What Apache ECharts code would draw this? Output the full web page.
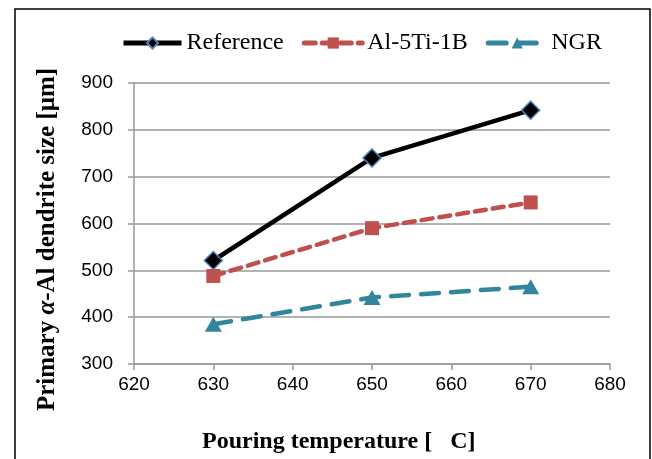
<!DOCTYPE html>
<html>
<head>
<meta charset="utf-8">
<title></title>
<script src="https://cdn.jsdelivr.net/npm/echarts@6/dist/echarts.min.js"></script>
<style>
  html, body { margin: 0; padding: 0; background: #fff; }
  #chart { width: 652px; height: 459px; }
</style>
</head>
<body>
<div id="chart"></div>
<script>
// pouring temperature [C]
var temps = [630, 650, 670];
var refSize = [521, 740, 842];
var tiSize = [488, 590, 645];
var ngrSize = [385, 442, 465];

function pairs(xs, ys) {
	var out = [];
	for (var i = 0; i < xs.length; i++) out.push([xs[i], ys[i]]);
	return out;
}

var serif = '"Liberation Serif", "Times New Roman", serif';
var sans = '"Liberation Sans", Arial, sans-serif';

var myChart = echarts.init(document.getElementById('chart'));
var option = {
	animation: false,
	backgroundColor: '#fff',
	title: {
		text: 'Pouring temperature [   C]',
		left: 197,
		top: 425,
		textStyle: { fontFamily: serif, fontSize: 24, fontWeight: 'bold', color: '#000' }
	},
	graphic: [{
		type: 'rect',
		shape: { x: 15, y: 9, width: 635, height: 470 },
		style: { fill: 'none', stroke: '#000', lineWidth: 1.5 },
		silent: true
	}],
	legend: {
		top: 31,
		left: 121,
		padding: 0,
		itemWidth: 58,
		itemHeight: 14,
		itemGap: 18,
		selectedMode: false,
		lineStyle: { width: 5 },
		textStyle: { fontFamily: serif, fontSize: 24, color: '#000' },
		data: ['Reference', 'Al-5Ti-1B', 'NGR']
	},
	grid: { left: 134, right: 42, top: 83, bottom: 95 },
	xAxis: {
		type: 'value',
		min: 620,
		max: 680,
		interval: 10,
		axisLine: { lineStyle: { color: '#999', width: 1.5 } },
		axisTick: { show: true, length: 6, lineStyle: { color: '#999', width: 1.5 } },
		axisLabel: { fontFamily: sans, fontSize: 19, color: '#000', margin: 11 },
		splitLine: { show: false }
	},
	yAxis: {
		type: 'value',
		min: 300,
		max: 900,
		interval: 100,
		name: 'Primary {i|α}-Al dendrite size [μm]',
		nameLocation: 'middle',
		nameGap: 74,
		nameTextStyle: {
			fontFamily: serif, fontSize: 25, fontWeight: 'bold', color: '#000',
			padding: [0, 32, 0, 0],
			rich: { i: { fontFamily: serif, fontSize: 25, fontWeight: 'bold', fontStyle: 'italic', color: '#000' } }
		},
		axisLine: { show: true, lineStyle: { color: '#999', width: 1.5 } },
		axisTick: { show: true, length: 6, lineStyle: { color: '#999', width: 1.5 } },
		axisLabel: { fontFamily: sans, fontSize: 19, color: '#000', margin: 21 },
		splitLine: { show: true, lineStyle: { color: '#999', width: 1.5 } }
	},
	series: [{
		name: 'Reference',
		type: 'line',
		data: pairs(temps, refSize),
		symbol: 'diamond',
		symbolSize: 18,
		itemStyle: { color: '#000', borderColor: '#4F81BD', borderWidth: 1.5 },
		lineStyle: { color: '#000', width: 4.5 },
		z: 3
	}, {
		name: 'Al-5Ti-1B',
		type: 'line',
		data: pairs(temps, tiSize),
		symbol: 'rect',
		symbolSize: 14,
		itemStyle: { color: '#C0504D', borderWidth: 0 },
		lineStyle: { color: '#C0504D', width: 4.5, type: [11, 7], cap: 'round' },
		z: 2
	}, {
		name: 'NGR',
		type: 'line',
		data: pairs(temps, ngrSize),
		symbol: 'triangle',
		symbolSize: [17, 15],
		itemStyle: { color: '#31869B', borderWidth: 0 },
		lineStyle: { color: '#31869B', width: 4.5, type: [18, 12], cap: 'round' },
		z: 2
	}]
};
myChart.setOption(option);
</script>
</body>
</html>
